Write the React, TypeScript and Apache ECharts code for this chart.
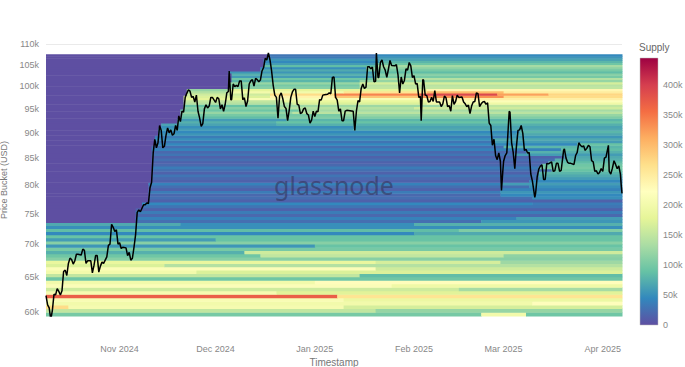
import React, { useEffect, useRef } from 'react';
import * as echarts from 'echarts';

const X_START = '2024-10-09';
const X_END = '2025-04-07';
const monthTicks = ['2024-11-01', '2024-12-01', '2025-01-01', '2025-02-01', '2025-03-01', '2025-04-01'];
const monthNames = ['Jan', 'Feb', 'Mar', 'Apr', 'May', 'Jun', 'Jul', 'Aug', 'Sep', 'Oct', 'Nov', 'Dec'];
const priceTicks = [60000, 65000, 70000, 75000, 80000, 85000, 90000, 95000, 100000, 105000, 110000];
const PRICE_MIN = 59500;
const PRICE_MAX = 110000;
const supplyTicks = [0, 50000, 100000, 150000, 200000, 250000, 300000, 350000, 400000];
const SUPPLY_MAX = 445000;
const spectral = ['#5e4fa2', '#3288bd', '#66c2a5', '#abdda4', '#e6f598', '#ffffbf', '#fee08b', '#fdae61', '#f46d43', '#d53e4f', '#9e0142'];

// lower bound of each 500 USD price bucket
const bucketLows = [
  59500, 60000, 60500, 61000, 61500, 62000, 62500, 63000, 63500, 64000, 64500, 65000,
  65500, 66000, 66500, 67000, 67500, 68000, 68500, 69000, 69500, 70000, 70500, 71000,
  71500, 72000, 72500, 73000, 73500, 74000, 74500, 75000, 75500, 76000, 76500, 77000,
  77500, 78000, 78500, 79000, 79500, 80000, 80500, 81000, 81500, 82000, 82500, 83000,
  83500, 84000, 84500, 85000, 85500, 86000, 86500, 87000, 87500, 88000, 88500, 89000,
  89500, 90000, 90500, 91000, 91500, 92000, 92500, 93000, 93500, 94000, 94500, 95000,
  95500, 96000, 96500, 97000, 97500, 98000, 98500, 99000, 99500, 100000, 100500, 101000,
  101500, 102000, 102500, 103000, 103500, 104000, 104500, 105000, 105500, 106000, 106500, 107000,
];

// supply per bucket: [start date, supply] steps (0 before the first step)
const bucketSegments: [string, number][][] = [
  [['2024-10-09', 100000], ['2025-02-22', 200000], ['2025-03-08', 95000]],
  [['2024-10-09', 150000], ['2025-01-20', 120000]],
  [['2024-10-09', 270000], ['2024-10-16', 205000], ['2025-01-10', 165000]],
  [['2024-10-09', 200000], ['2025-03-10', 225000]],
  [['2024-10-09', 210000], ['2025-01-10', 190000]],
  [['2024-10-09', 370000], ['2025-01-08', 260000]],
  [['2024-10-09', 205000], ['2024-12-20', 175000]],
  [['2024-10-09', 160000], ['2025-02-15', 130000]],
  [['2024-10-09', 215000], ['2025-01-25', 195000]],
  [['2024-10-09', 200000], ['2025-01-01', 225000]],
  [['2024-10-09', 95000]],
  [['2024-10-09', 150000], ['2025-01-15', 85000]],
  [['2024-10-09', 200000], ['2024-11-25', 170000]],
  [['2024-10-09', 215000], ['2025-01-20', 160000]],
  [['2024-10-09', 170000], ['2024-11-15', 140000]],
  [['2024-10-09', 185000], ['2025-01-20', 165000], ['2025-02-28', 125000]],
  [['2024-10-09', 110000]],
  [['2024-10-09', 95000], ['2024-12-15', 150000], ['2025-03-01', 115000]],
  [['2024-10-09', 75000], ['2024-12-10', 160000]],
  [['2024-10-09', 100000]],
  [['2024-10-09', 55000], ['2025-01-01', 90000]],
  [['2024-10-09', 110000]],
  [['2024-10-09', 60000], ['2024-12-01', 90000]],
  [['2024-10-09', 90000]],
  [['2024-10-09', 45000], ['2025-02-01', 70000]],
  [['2024-10-09', 85000], ['2025-02-15', 105000]],
  [['2024-10-09', 50000]],
  [['2024-10-09', 70000], ['2024-11-20', 50000], ['2025-02-01', 75000]],
  [['2024-11-06', 25000], ['2025-02-22', 55000]],
  [['2024-11-06', 40000], ['2025-03-05', 60000]],
  [['2024-11-06', 20000]],
  [['2024-11-06', 35000]],
  [['2024-11-06', 15000]],
  [['2024-11-08', 30000]],
  [['2024-11-08', 45000], ['2025-03-10', 35000]],
  [['2024-11-10', 15000]],
  [['2024-11-10', 25000], ['2025-03-10', 50000]],
  [['2024-11-10', 20000], ['2025-02-28', 45000]],
  [['2024-11-10', 35000], ['2025-02-28', 55000]],
  [['2024-11-10', 15000], ['2025-02-28', 40000]],
  [['2024-11-10', 25000], ['2025-03-09', 50000]],
  [['2024-11-10', 40000], ['2025-02-28', 60000]],
  [['2024-11-11', 15000], ['2025-03-09', 45000]],
  [['2024-11-11', 20000], ['2025-03-12', 60000]],
  [['2024-11-11', 30000], ['2025-03-12', 70000]],
  [['2024-11-11', 15000], ['2025-03-12', 80000]],
  [['2024-11-11', 25000], ['2025-03-16', 90000]],
  [['2024-11-11', 35000], ['2025-03-12', 100000]],
  [['2024-11-11', 20000], ['2025-03-13', 95000]],
  [['2024-11-11', 15000], ['2025-03-15', 85000]],
  [['2024-11-11', 25000], ['2025-03-17', 75000]],
  [['2024-11-11', 15000], ['2025-03-20', 70000]],
  [['2024-11-11', 30000], ['2025-03-04', 60000]],
  [['2024-11-11', 20000], ['2025-03-08', 75000]],
  [['2024-11-11', 40000], ['2025-03-19', 85000]],
  [['2024-11-11', 25000], ['2025-03-01', 80000]],
  [['2024-11-12', 45000], ['2025-03-24', 90000]],
  [['2024-11-12', 30000], ['2025-02-26', 60000]],
  [['2024-11-12', 50000], ['2025-02-26', 70000]],
  [['2024-11-12', 35000], ['2025-03-03', 55000]],
  [['2024-11-13', 55000], ['2025-03-05', 70000]],
  [['2024-11-13', 45000], ['2025-03-06', 80000]],
  [['2024-11-13', 60000], ['2025-01-13', 70000]],
  [['2024-11-14', 50000], ['2025-01-13', 65000]],
  [['2024-11-14', 65000], ['2024-12-20', 75000]],
  [['2024-11-19', 75000], ['2024-12-20', 90000]],
  [['2024-11-19', 60000], ['2024-12-23', 80000]],
  [['2024-11-20', 85000], ['2024-12-20', 105000]],
  [['2024-11-20', 100000], ['2025-01-09', 120000]],
  [['2024-11-20', 120000], ['2024-12-25', 145000]],
  [['2024-11-20', 95000], ['2024-12-27', 130000]],
  [['2024-11-21', 110000], ['2024-12-20', 140000], ['2025-02-01', 160000]],
  [['2024-11-21', 90000], ['2024-12-20', 125000], ['2025-02-10', 150000]],
  [['2024-11-21', 140000], ['2024-12-25', 170000], ['2025-02-05', 195000]],
  [['2024-11-21', 150000], ['2024-12-22', 185000], ['2025-02-05', 215000]],
  [['2024-11-21', 180000], ['2024-12-10', 210000], ['2025-02-05', 245000]],
  [['2024-11-21', 170000], ['2024-12-18', 240000], ['2025-01-07', 290000], ['2025-02-03', 330000], ['2025-03-01', 270000]],
  [['2024-11-22', 160000], ['2024-12-18', 270000], ['2025-01-07', 340000], ['2025-02-03', 390000], ['2025-02-27', 320000], ['2025-03-15', 275000]],
  [['2024-11-22', 140000], ['2024-12-05', 200000], ['2025-01-10', 260000], ['2025-02-05', 300000], ['2025-03-01', 250000]],
  [['2024-11-22', 120000], ['2024-12-05', 180000], ['2025-02-05', 235000]],
  [['2024-12-05', 110000], ['2025-01-15', 150000]],
  [['2024-12-05', 100000], ['2025-01-15', 145000]],
  [['2024-12-05', 120000], ['2025-01-15', 165000]],
  [['2024-12-06', 80000], ['2025-01-15', 120000]],
  [['2024-12-06', 95000], ['2025-01-20', 140000]],
  [['2024-12-06', 60000], ['2025-01-20', 100000]],
  [['2024-12-06', 75000], ['2025-01-20', 110000]],
  [['2024-12-05', 55000], ['2025-01-20', 85000]],
  [['2024-12-15', 70000], ['2025-01-17', 100000]],
  [['2024-12-15', 50000], ['2025-01-17', 115000]],
  [['2024-12-16', 85000], ['2025-01-20', 130000]],
  [['2024-12-16', 60000], ['2025-01-20', 95000]],
  [['2024-12-16', 45000], ['2025-01-21', 80000]],
  [['2024-12-16', 55000], ['2025-01-21', 65000]],
  [['2024-12-17', 35000], ['2025-01-20', 55000]],
  [['2024-12-17', 30000], ['2025-01-20', 45000]],
];

const btcPrice: [string, number][] = [
  ['2024-10-09 00:00', 62300], ['2024-10-09 12:00', 61000], ['2024-10-10 00:00', 60600], ['2024-10-10 12:00', 59000],
  ['2024-10-11 00:00', 60300], ['2024-10-11 12:00', 62500], ['2024-10-12 00:00', 62400], ['2024-10-12 12:00', 63300],
  ['2024-10-13 00:00', 62900], ['2024-10-13 12:00', 62400], ['2024-10-14 00:00', 63000], ['2024-10-14 12:00', 65800],
  ['2024-10-15 00:00', 66000], ['2024-10-15 12:00', 65200], ['2024-10-16 00:00', 67000], ['2024-10-16 12:00', 67800],
  ['2024-10-17 00:00', 67600], ['2024-10-17 12:00', 66900], ['2024-10-18 00:00', 67400], ['2024-10-18 12:00', 68400],
  ['2024-10-19 00:00', 68400], ['2024-10-20 00:00', 68300], ['2024-10-20 12:00', 69200], ['2024-10-21 00:00', 69000],
  ['2024-10-21 12:00', 67000], ['2024-10-22 00:00', 67400], ['2024-10-23 00:00', 67400], ['2024-10-23 12:00', 65600],
  ['2024-10-24 00:00', 66700], ['2024-10-24 12:00', 68200], ['2024-10-25 00:00', 68200], ['2024-10-25 12:00', 65700],
  ['2024-10-26 00:00', 66600], ['2024-10-26 12:00', 67200], ['2024-10-27 00:00', 67000], ['2024-10-28 00:00', 68000],
  ['2024-10-28 12:00', 69800], ['2024-10-29 00:00', 70000], ['2024-10-29 12:00', 73200], ['2024-10-30 00:00', 72700],
  ['2024-10-30 12:00', 72000], ['2024-10-31 00:00', 72300], ['2024-10-31 12:00', 70000], ['2024-11-01 00:00', 70200],
  ['2024-11-01 12:00', 69300], ['2024-11-02 00:00', 69500], ['2024-11-03 00:00', 69400], ['2024-11-03 12:00', 68200],
  ['2024-11-04 00:00', 68700], ['2024-11-04 12:00', 67500], ['2024-11-05 00:00', 67800], ['2024-11-05 12:00', 69500],
  ['2024-11-06 00:00', 71500], ['2024-11-06 12:00', 75200], ['2024-11-07 00:00', 75600], ['2024-11-07 12:00', 75300],
  ['2024-11-08 00:00', 75900], ['2024-11-08 12:00', 76500], ['2024-11-09 00:00', 76500], ['2024-11-09 12:00', 76800],
  ['2024-11-10 00:00', 76700], ['2024-11-10 12:00', 79500], ['2024-11-11 00:00', 80500], ['2024-11-11 12:00', 86000],
  ['2024-11-12 00:00', 88700], ['2024-11-12 12:00', 87000], ['2024-11-13 00:00', 88000], ['2024-11-13 12:00', 91500],
  ['2024-11-14 00:00', 90500], ['2024-11-14 12:00', 87000], ['2024-11-15 00:00', 87300], ['2024-11-15 12:00', 89500],
  ['2024-11-16 00:00', 91000], ['2024-11-16 12:00', 90000], ['2024-11-17 00:00', 90600], ['2024-11-17 12:00', 89500],
  ['2024-11-18 00:00', 89800], ['2024-11-18 12:00', 91500], ['2024-11-19 00:00', 90500], ['2024-11-19 12:00', 93500],
  ['2024-11-20 00:00', 92300], ['2024-11-20 12:00', 94500], ['2024-11-21 00:00', 94300], ['2024-11-21 12:00', 97500],
  ['2024-11-22 00:00', 98400], ['2024-11-22 12:00', 99200], ['2024-11-23 00:00', 98900], ['2024-11-23 12:00', 97500],
  ['2024-11-24 00:00', 97700], ['2024-11-24 12:00', 96500], ['2024-11-25 00:00', 98000], ['2024-11-25 12:00', 94500],
  ['2024-11-26 00:00', 93100], ['2024-11-26 12:00', 91300], ['2024-11-27 00:00', 91900], ['2024-11-27 12:00', 95000],
  ['2024-11-28 00:00', 95900], ['2024-11-28 12:00', 95200], ['2024-11-29 00:00', 95600], ['2024-11-29 12:00', 97500],
  ['2024-11-30 00:00', 97500], ['2024-12-01 00:00', 96400], ['2024-12-01 12:00', 97500], ['2024-12-02 00:00', 97200],
  ['2024-12-02 12:00', 95000], ['2024-12-03 00:00', 95900], ['2024-12-03 12:00', 94500], ['2024-12-04 00:00', 96000],
  ['2024-12-04 12:00', 98500], ['2024-12-05 00:00', 98800], ['2024-12-05 06:00', 103500], ['2024-12-05 18:00', 97000],
  ['2024-12-06 00:00', 97000], ['2024-12-06 12:00', 100500], ['2024-12-07 00:00', 99900], ['2024-12-07 12:00', 100200],
  ['2024-12-08 00:00', 99900], ['2024-12-08 12:00', 101200], ['2024-12-09 00:00', 101200], ['2024-12-09 12:00', 97000],
  ['2024-12-10 00:00', 97400], ['2024-12-10 12:00', 95500], ['2024-12-11 00:00', 96700], ['2024-12-11 12:00', 100500],
  ['2024-12-12 00:00', 101200], ['2024-12-12 12:00', 101500], ['2024-12-13 00:00', 100000], ['2024-12-13 12:00', 101800],
  ['2024-12-14 00:00', 101500], ['2024-12-14 12:00', 101000], ['2024-12-15 00:00', 101400], ['2024-12-15 12:00', 103500],
  ['2024-12-16 00:00', 104300], ['2024-12-16 12:00', 106500], ['2024-12-17 00:00', 106100], ['2024-12-17 12:00', 107800],
  ['2024-12-18 00:00', 106100], ['2024-12-18 12:00', 103500], ['2024-12-19 00:00', 100200], ['2024-12-19 12:00', 98000],
  ['2024-12-20 00:00', 97500], ['2024-12-20 12:00', 93000], ['2024-12-21 00:00', 97800], ['2024-12-21 12:00', 98500],
  ['2024-12-22 00:00', 97200], ['2024-12-22 12:00', 95500], ['2024-12-23 00:00', 95100], ['2024-12-23 12:00', 92500],
  ['2024-12-24 00:00', 94700], ['2024-12-24 12:00', 97500], ['2024-12-25 00:00', 98700], ['2024-12-25 12:00', 99300],
  ['2024-12-26 00:00', 99300], ['2024-12-26 12:00', 96000], ['2024-12-27 00:00', 95800], ['2024-12-27 12:00', 94000],
  ['2024-12-28 00:00', 94200], ['2024-12-28 12:00', 95000], ['2024-12-29 00:00', 95200], ['2024-12-29 12:00', 94000],
  ['2024-12-30 00:00', 93700], ['2024-12-30 12:00', 92000], ['2024-12-31 00:00', 92600], ['2024-12-31 12:00', 94500],
  ['2025-01-01 00:00', 93400], ['2025-01-01 12:00', 94500], ['2025-01-02 00:00', 94400], ['2025-01-02 12:00', 97000],
  ['2025-01-03 00:00', 96900], ['2025-01-03 12:00', 98000], ['2025-01-04 00:00', 98100], ['2025-01-05 00:00', 98200],
  ['2025-01-05 12:00', 98500], ['2025-01-06 00:00', 98300], ['2025-01-06 12:00', 102000], ['2025-01-07 00:00', 102100],
  ['2025-01-07 12:00', 97500], ['2025-01-08 00:00', 96900], ['2025-01-08 12:00', 94500], ['2025-01-09 00:00', 95000],
  ['2025-01-09 12:00', 92500], ['2025-01-10 00:00', 92500], ['2025-01-10 12:00', 94500], ['2025-01-11 00:00', 94700],
  ['2025-01-12 00:00', 94600], ['2025-01-13 00:00', 94500], ['2025-01-13 12:00', 90500], ['2025-01-14 00:00', 94500],
  ['2025-01-14 12:00', 96800], ['2025-01-15 00:00', 96500], ['2025-01-15 12:00', 99500], ['2025-01-16 00:00', 100500],
  ['2025-01-16 12:00', 99500], ['2025-01-17 00:00', 99800], ['2025-01-17 12:00', 104500], ['2025-01-18 00:00', 104500],
  ['2025-01-18 12:00', 104000], ['2025-01-19 00:00', 104400], ['2025-01-19 12:00', 101000], ['2025-01-20 00:00', 101100],
  ['2025-01-20 06:00', 107800], ['2025-01-20 18:00', 102000], ['2025-01-21 00:00', 102000], ['2025-01-21 12:00', 105500],
  ['2025-01-22 00:00', 106100], ['2025-01-22 12:00', 104500], ['2025-01-23 00:00', 103700], ['2025-01-23 12:00', 102000],
  ['2025-01-24 00:00', 103900], ['2025-01-24 12:00', 106000], ['2025-01-25 00:00', 104800], ['2025-01-26 00:00', 104700],
  ['2025-01-26 12:00', 105000], ['2025-01-27 00:00', 102600], ['2025-01-27 12:00', 98500], ['2025-01-28 00:00', 102100],
  ['2025-01-28 12:00', 100500], ['2025-01-29 00:00', 101300], ['2025-01-29 12:00', 104000], ['2025-01-30 00:00', 103700],
  ['2025-01-30 12:00', 105500], ['2025-01-31 00:00', 104700], ['2025-01-31 12:00', 102000], ['2025-02-01 00:00', 102400],
  ['2025-02-01 12:00', 100500], ['2025-02-02 00:00', 100600], ['2025-02-02 12:00', 97500], ['2025-02-03 00:00', 97700],
  ['2025-02-03 06:00', 92500], ['2025-02-03 18:00', 101500], ['2025-02-04 00:00', 101400], ['2025-02-04 12:00', 98000],
  ['2025-02-05 00:00', 97900], ['2025-02-05 12:00', 96500], ['2025-02-06 00:00', 96600], ['2025-02-06 12:00', 97500],
  ['2025-02-07 00:00', 96600], ['2025-02-07 12:00', 99000], ['2025-02-08 00:00', 96500], ['2025-02-09 00:00', 96500],
  ['2025-02-09 12:00', 95500], ['2025-02-10 00:00', 96100], ['2025-02-10 12:00', 97800], ['2025-02-11 00:00', 97400],
  ['2025-02-11 12:00', 95500], ['2025-02-12 00:00', 95700], ['2025-02-12 12:00', 94500], ['2025-02-13 00:00', 97900],
  ['2025-02-13 12:00', 96000], ['2025-02-14 00:00', 96600], ['2025-02-14 12:00', 98000], ['2025-02-15 00:00', 97500],
  ['2025-02-16 00:00', 97600], ['2025-02-16 12:00', 96500], ['2025-02-17 00:00', 96100], ['2025-02-17 12:00', 95500],
  ['2025-02-18 00:00', 95800], ['2025-02-18 12:00', 94000], ['2025-02-19 00:00', 95600], ['2025-02-19 12:00', 96500],
  ['2025-02-20 00:00', 96600], ['2025-02-20 12:00', 98500], ['2025-02-21 00:00', 98300], ['2025-02-21 12:00', 95500],
  ['2025-02-22 00:00', 96100], ['2025-02-22 12:00', 96500], ['2025-02-23 00:00', 96600], ['2025-02-23 12:00', 96000],
  ['2025-02-24 00:00', 96300], ['2025-02-24 12:00', 92000], ['2025-02-25 00:00', 91500], ['2025-02-25 12:00', 87500],
  ['2025-02-26 00:00', 88700], ['2025-02-26 12:00', 85500], ['2025-02-27 00:00', 84700], ['2025-02-27 12:00', 86000],
  ['2025-02-28 00:00', 84400], ['2025-02-28 08:00', 79000], ['2025-02-28 18:00', 82500], ['2025-03-01 00:00', 84400],
  ['2025-03-01 12:00', 85500], ['2025-03-02 00:00', 86000], ['2025-03-02 18:00', 94500], ['2025-03-03 00:00', 94300],
  ['2025-03-03 12:00', 88000], ['2025-03-04 00:00', 86100], ['2025-03-04 12:00', 83000], ['2025-03-05 00:00', 87200],
  ['2025-03-05 12:00', 90500], ['2025-03-06 00:00', 90600], ['2025-03-06 12:00', 91500], ['2025-03-07 00:00', 89900],
  ['2025-03-07 12:00', 86500], ['2025-03-08 00:00', 86700], ['2025-03-08 12:00', 86000], ['2025-03-09 00:00', 86100],
  ['2025-03-09 12:00', 82000], ['2025-03-10 00:00', 80700], ['2025-03-10 18:00', 77800], ['2025-03-11 00:00', 78500],
  ['2025-03-11 12:00', 81500], ['2025-03-12 00:00', 82900], ['2025-03-12 12:00', 83500], ['2025-03-13 00:00', 83700],
  ['2025-03-13 12:00', 81000], ['2025-03-14 00:00', 81000], ['2025-03-14 12:00', 84000], ['2025-03-15 00:00', 83900],
  ['2025-03-16 00:00', 84300], ['2025-03-16 12:00', 82500], ['2025-03-17 00:00', 82600], ['2025-03-17 12:00', 84000],
  ['2025-03-18 00:00', 84000], ['2025-03-18 12:00', 82500], ['2025-03-19 00:00', 82700], ['2025-03-19 18:00', 86500],
  ['2025-03-20 00:00', 86800], ['2025-03-20 12:00', 85000], ['2025-03-21 00:00', 84200], ['2025-03-21 12:00', 84000],
  ['2025-03-22 00:00', 84000], ['2025-03-23 00:00', 83800], ['2025-03-23 12:00', 85500], ['2025-03-24 00:00', 86100],
  ['2025-03-24 12:00', 88000], ['2025-03-25 00:00', 87500], ['2025-03-25 12:00', 87200], ['2025-03-26 00:00', 87400],
  ['2025-03-26 12:00', 86500], ['2025-03-27 00:00', 86900], ['2025-03-27 12:00', 87500], ['2025-03-28 00:00', 87200],
  ['2025-03-28 12:00', 84500], ['2025-03-29 00:00', 84300], ['2025-03-29 12:00', 82500], ['2025-03-30 00:00', 82600],
  ['2025-03-30 12:00', 82000], ['2025-03-31 00:00', 82300], ['2025-03-31 12:00', 83000], ['2025-04-01 00:00', 82500],
  ['2025-04-01 12:00', 85000], ['2025-04-02 00:00', 85200], ['2025-04-02 18:00', 87500], ['2025-04-03 00:00', 82500],
  ['2025-04-03 12:00', 82000], ['2025-04-04 00:00', 83100], ['2025-04-04 12:00', 84500], ['2025-04-05 00:00', 83800],
  ['2025-04-05 12:00', 83000], ['2025-04-06 00:00', 83500], ['2025-04-06 12:00', 82000], ['2025-04-06 18:00', 80000],
  ['2025-04-07 00:00', 78500],
];

function ts(s: string): number {
  const [d, t] = s.split(' ');
  const [y, m, day] = d.split('-').map(Number);
  let hh = 0;
  let mm = 0;
  if (t) {
    const parts = t.split(':').map(Number);
    hh = parts[0];
    mm = parts[1];
  }
  return new Date(y, m - 1, day, hh, mm).getTime();
}

const FONT = "'Liberation Sans', Arial, sans-serif";

export default function App() {
  const ref = useRef<HTMLDivElement>(null);

  useEffect(() => {
    if (!ref.current) return;
    const chart = echarts.init(ref.current, undefined, { renderer: 'svg' });
    const xMin = ts(X_START);
    const xMax = ts(X_END);
    const bucketWidth = bucketLows[1] - bucketLows[0];

    const cells: number[][] = [];
    bucketLows.forEach((p, i) => {
      const segs = bucketSegments[i];
      const lo = Math.log(p);
      const hi = Math.log(p + bucketWidth);
      const starts = segs.map((s) => ts(s[0]));
      if (starts[0] > xMin) cells.push([xMin, starts[0], lo, hi, 0]);
      segs.forEach((s, j) => {
        const x0 = starts[j];
        const x1 = j + 1 < segs.length ? starts[j + 1] : xMax;
        cells.push([x0, x1, lo, hi, s[1]]);
      });
    });

    const linePts = btcPrice.map(([t, v]) => [ts(t), Math.log(v)]);
    const gradStops = spectral.map((c, i) => ({ offset: i / (spectral.length - 1), color: c }));

    const option: any = {
      animation: false,
      backgroundColor: '#ffffff',
      textStyle: { fontFamily: FONT },
      title: {
        text: 'Supply',
        left: 639,
        top: 42,
        padding: 0,
        textStyle: { fontSize: 10, color: '#666', fontWeight: 'normal', fontFamily: FONT },
      },
      grid: [
        { left: 46, right: 63, top: 44, bottom: 51, containLabel: false, outerBoundsMode: 'none' },
        { left: 640, top: 58, width: 18, height: 267, containLabel: false, outerBoundsMode: 'none' },
      ],
      xAxis: [
        {
          type: 'value',
          gridIndex: 0,
          min: xMin,
          max: xMax,
          axisLine: { show: false },
          axisTick: { show: false, customValues: monthTicks.map(ts) },
          splitLine: { show: false },
          axisLabel: {
            customValues: monthTicks.map(ts),
            formatter: (v: number) => {
              const d = new Date(v);
              return monthNames[d.getMonth()] + ' ' + d.getFullYear();
            },
            fontSize: 9,
            color: '#888',
            margin: 28,
            fontFamily: FONT,
          },
          name: 'Timestamp',
          nameLocation: 'middle',
          nameGap: 41,
          nameTextStyle: { fontSize: 10, color: '#777', fontFamily: FONT },
        },
        { type: 'value', gridIndex: 1, min: 0, max: 1, show: false },
      ],
      yAxis: [
        {
          type: 'value',
          gridIndex: 0,
          min: Math.log(PRICE_MIN),
          max: Math.log(PRICE_MAX),
          axisLine: { show: false },
          axisTick: { show: false, customValues: priceTicks.map((v) => Math.log(v)) },
          splitLine: { show: true, lineStyle: { color: '#eaeaea', width: 1 } },
          axisLabel: {
            customValues: priceTicks.map((v) => Math.log(v)),
            formatter: (v: number) => Math.round(Math.exp(v) / 1000) + 'k',
            fontSize: 9,
            color: '#888',
            margin: 7,
            fontFamily: FONT,
          },
          name: 'Price Bucket (USD)',
          nameLocation: 'middle',
          nameGap: 30,
          nameTextStyle: { fontSize: 9, color: '#777', fontFamily: FONT },
        },
        {
          type: 'value',
          gridIndex: 1,
          min: 0,
          max: SUPPLY_MAX,
          position: 'right',
          axisLine: { show: false },
          axisTick: { show: false, customValues: supplyTicks },
          splitLine: { show: false },
          axisLabel: {
            customValues: supplyTicks,
            formatter: (v: number) => (v === 0 ? '0' : v / 1000 + 'k'),
            fontSize: 9,
            color: '#888',
            margin: 5,
            fontFamily: FONT,
          },
        },
      ],
      visualMap: {
        show: false,
        type: 'continuous',
        min: 0,
        max: SUPPLY_MAX,
        dimension: 4,
        seriesIndex: 0,
        inRange: { color: spectral },
      },
      graphic: [
        {
          type: 'text',
          x: 334,
          y: 185,
          z: 100,
          silent: true,
          style: {
            text: 'glassnode',
            fontSize: 25,
            fontFamily: "'Noto Sans', sans-serif",
            fill: 'rgba(50, 45, 80, 0.55)',
            align: 'center',
            verticalAlign: 'middle',
          },
        },
      ],
      series: [
        {
          type: 'custom',
          xAxisIndex: 0,
          yAxisIndex: 0,
          silent: true,
          encode: { x: [0, 1], y: [2, 3] },
          data: cells,
          renderItem: (params: any, api: any) => {
            const p0 = api.coord([api.value(0), api.value(3)]);
            const p1 = api.coord([api.value(1), api.value(2)]);
            return {
              type: 'rect',
              shape: { x: p0[0], y: p0[1], width: p1[0] - p0[0] + 0.5, height: p1[1] - p0[1] + 0.5 },
              style: { fill: api.visual('color') },
            };
          },
          z: 1,
        },
        {
          type: 'line',
          xAxisIndex: 0,
          yAxisIndex: 0,
          data: linePts,
          symbol: 'none',
          lineStyle: { color: '#000', width: 1.5 },
          z: 5,
        },
        {
          type: 'custom',
          xAxisIndex: 1,
          yAxisIndex: 1,
          silent: true,
          data: [[0, 0]],
          renderItem: (params: any) => {
            const cs = params.coordSys;
            return {
              type: 'rect',
              shape: { x: cs.x, y: cs.y, width: cs.width, height: cs.height },
              style: {
                fill: new echarts.graphic.LinearGradient(0, 1, 0, 0, gradStops),
                stroke: '#bbb',
                lineWidth: 0.5,
              },
            };
          },
        },
      ],
    };

    chart.setOption(option);
    return () => chart.dispose();
  }, []);

  return (
    <div
      ref={ref}
      style={{ position: 'fixed', left: 0, top: 0, width: 685, height: 367, background: '#fff' }}
    />
  );
}
